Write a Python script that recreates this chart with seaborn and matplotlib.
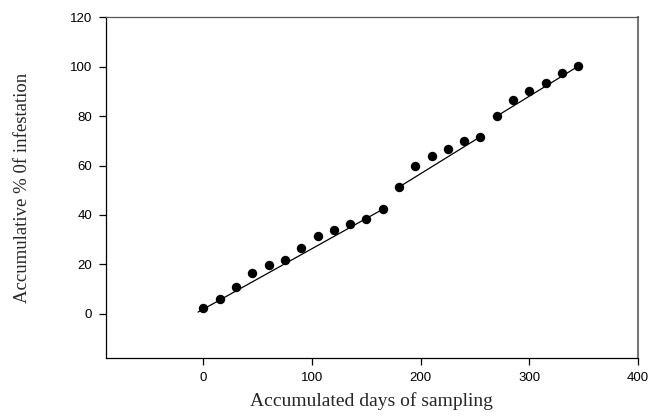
"""
Accumulated infestation versus days of sampling, with piecewise linear fits.
"""
import numpy as np
import pandas as pd
import matplotlib
matplotlib.use('Agg')
import matplotlib.pyplot as plt
import seaborn as sns

# sampling days (every 15 days) and accumulated % of infestation
days = [0, 15, 30, 45, 60, 75, 90, 105, 120, 135, 150, 165,
        180, 195, 210, 225, 240, 255,
        270, 285, 300, 315, 330, 345]
infestation = [2.5, 6.1, 10.8, 16.7, 19.9, 21.9, 26.7, 31.5, 33.9, 36.2, 38.5, 42.3,
               51.3, 59.7, 64.0, 66.9, 69.8, 71.7,
               80.0, 86.7, 90.2, 93.3, 97.5, 100.2]

# fitted lines (start/end of each segment)
fit_seg = [1, 1, 2, 2, 3, 3]
fit_days = [-5, 165, 180, 255, 270, 345]
fit_inf = [0.7, 42.3, 51.3, 71.7, 80.0, 100.2]

x_ticks = [0, 100, 200, 300, 400]
y_ticks = [0, 20, 40, 60, 80, 100, 120]

df = pd.DataFrame({'days': days, 'inf': infestation})
fit = pd.DataFrame({'days': fit_days, 'inf': fit_inf, 'seg': fit_seg})

sns.set_style('ticks')
plt.rcParams['font.family'] = ['Liberation Sans', 'DejaVu Sans']

fig = plt.figure(figsize=(6.51, 4.16), dpi=100)
ax = fig.add_axes([0.1624, 0.1387, 0.8176, 0.8197])

sns.lineplot(data=fit, x='days', y='inf', units='seg', estimator=None, ax=ax,
             color='black', linewidth=0.9, sort=False)
sns.scatterplot(data=df, x='days', y='inf', ax=ax, color='black', s=46,
                edgecolor='black', linewidth=0, zorder=3)

ax.set_xlim(-90, 400)
ax.set_ylim(-18, 120)
ax.set_xticks(x_ticks)
ax.set_yticks(y_ticks)
ax.tick_params(axis='both', direction='out', length=4.8, width=0.9,
               labelsize=9.5, colors='black', pad=5)

for side in ['left', 'bottom']:
    ax.spines[side].set_color('black')
    ax.spines[side].set_linewidth(0.9)
ax.spines['top'].set_color('#555555')
ax.spines['top'].set_linewidth(0.9)
ax.spines['right'].set_visible(True)
ax.spines['right'].set_color('#777777')
ax.spines['right'].set_linewidth(1.5)

ax.set_xlabel('Accumulated days of sampling', family=['Liberation Serif'],
              fontsize=14, labelpad=6)
ax.set_ylabel('Accumulative % 0f infestation', family=['Liberation Serif'],
              fontsize=13.5, labelpad=28)

fig.savefig('out.png', dpi=100)
